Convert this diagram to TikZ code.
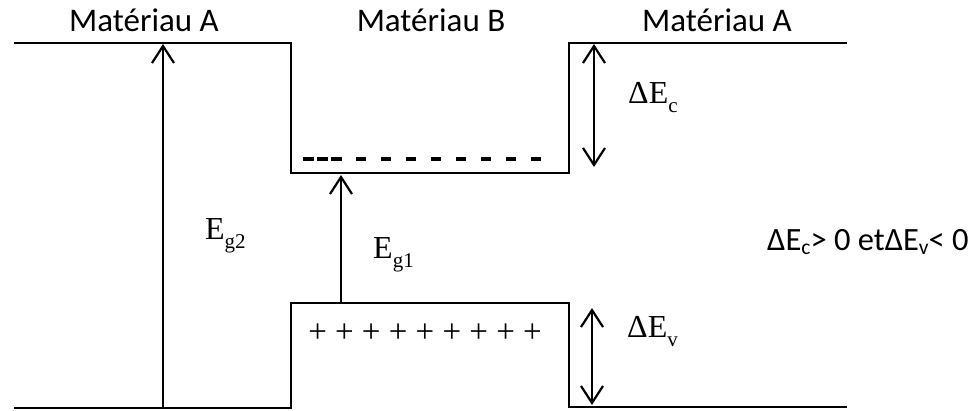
\documentclass[tikz,border=0pt]{standalone}
\usepackage{fontspec}
\setmainfont{Carlito}
\newfontfamily\tnr{Liberation Serif}
\usetikzlibrary{arrows.meta}
\newcommand{\tsub}[1]{\raisebox{-9pt}{\fontsize{21}{21}\selectfont #1}}
\newcommand{\csub}[1]{\raisebox{-4pt}{\fontsize{21.5}{22}\selectfont #1}}
\tikzset{gtip/.tip={Straight Barb[length=17pt,width=22pt,line width=2.2pt]}}
\begin{document}
\begin{tikzpicture}[x=1pt,y=-1pt,
  band/.style={line width=2.2pt, line join=miter},
  uparrow/.style={line width=2.2pt, -{gtip}},
  dblarrow/.style={line width=2.2pt, {gtip}-{gtip}},
  toplabel/.style={font=\fontsize{33}{38}\selectfont, anchor=base, inner sep=0pt},
  tlabel/.style={font=\tnr\fontsize{32}{36}\selectfont, anchor=base west, inner sep=0pt},
  clabel/.style={font=\fontsize{32.5}{38}\selectfont, anchor=base west, inner sep=0pt},
  dashline/.style={line width=3.2pt}
]
\useasboundingbox (0,0) rectangle (977,411);
% band corners
\coordinate (LT0) at (14,43);
\coordinate (LT1) at (291,43);
\coordinate (WB0) at (291,173);
\coordinate (WB1) at (569,173);
\coordinate (RT0) at (569,43);
\coordinate (RT1) at (847,43);
\coordinate (LB0) at (14,408);
\coordinate (LB1) at (291,408);
\coordinate (VB0) at (291,303);
\coordinate (VB1) at (569,303);
\coordinate (RB0) at (569,407);
\coordinate (RB1) at (847,407);
\draw[band] (LT0) -- (LT1) -- (WB0) -- (WB1) -- (RT0) -- (RT1);
\draw[band] (LB0) -- (LB1) -- (VB0) -- (VB1) -- (RB0) -- (RB1);
% arrows
\coordinate (g2b) at (163,408);
\coordinate (g2t) at (163,44);
\coordinate (g1b) at (341,303);
\coordinate (g1t) at (341,175);
\coordinate (dct) at (594,44);
\coordinate (dcb) at (594,167);
\coordinate (dvt) at (592,308);
\coordinate (dvb) at (592,405);
\draw[uparrow] (g2b) -- (g2t);
\draw[uparrow] (g1b) -- (g1t);
\draw[dblarrow] (dct) -- (dcb);
\draw[dblarrow] (dvt) -- (dvb);
% electrons (dashes)
\coordinate (e0) at (303,159);
\coordinate (e1) at (342,159);
\coordinate (e2) at (356,159);
\coordinate (e3) at (541,159);
\draw[dashline, dash pattern=on 11pt off 3pt] (e0) -- (e1);
\draw[dashline, dash pattern=on 10pt off 15pt] (e2) -- (e3);
% holes
\node[font=\tnr\fontsize{33}{36}\selectfont, anchor=base, inner sep=0pt] (holes) at (425,343) {+ + + + + + + + +};
% labels
\node[toplabel] (mA1) at (144,32) {Matériau A};
\node[toplabel] (mB) at (431,32) {Matériau B};
\node[toplabel] (mA2) at (717,32) {Matériau A};
\node[tlabel] (eg2) at (205,240) {E\tsub{g2}};
\node[tlabel] (eg1) at (373,259) {E\tsub{g1}};
\node[tlabel] (dec) at (628,104) {ΔE\tsub{c}};
\node[tlabel] (dev) at (627,338) {ΔE\tsub{v}};
\node[clabel] (cond) at (767,251) {ΔE\csub{c}> 0 etΔE\csub{v}< 0};
\end{tikzpicture}
\end{document}
